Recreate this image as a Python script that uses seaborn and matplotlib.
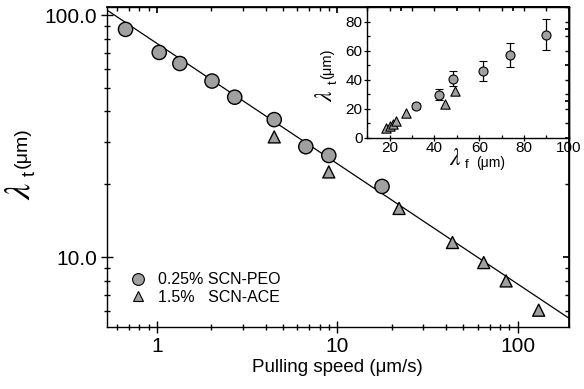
import matplotlib
matplotlib.use("Agg")
import matplotlib.pyplot as plt
import matplotlib.ticker as mticker
from matplotlib.lines import Line2D
import numpy as np
import pandas as pd
import seaborn as sns

# main panel: wavelength vs pulling speed
peo_speed = [0.67, 1.03, 1.34, 2.02, 2.70, 4.47, 6.69, 8.97, 17.7]
peo_lambda = [87.3, 70.1, 63.1, 53.4, 45.8, 37.0, 28.6, 26.3, 19.6]
ace_speed = [4.47, 8.97, 22.0, 43.5, 64.8, 86.2, 130.7]
ace_lambda = [31.4, 22.5, 15.9, 11.5, 9.5, 7.98, 6.04]

# power-law fit line: lambda = A * V^-n
fit_A = 76.4
fit_n = 0.497

# inset: lambda_t vs lambda_f
inset_peo_f = [31.8, 42.1, 48.3, 61.7, 73.8, 90.0]
inset_peo_t = [21.8, 29.6, 40.5, 46.1, 56.9, 70.9]
inset_peo_err = [2.0, 3.7, 5.3, 6.8, 8.0, 10.5]
inset_ace_f = [18.2, 20.3, 21.5, 23.0, 27.4, 44.6, 49.1]
inset_ace_t = [6.4, 7.6, 9.3, 11.6, 16.6, 23.0, 32.0]

sns.set_theme(style="ticks")
plt.rcParams["font.family"] = ["Liberation Sans", "DejaVu Sans"]
plt.rcParams["mathtext.fontset"] = "stix"
for k in ["text.color", "axes.labelcolor", "xtick.color", "ytick.color",
          "axes.edgecolor"]:
    plt.rcParams[k] = "black"

fill = "#a0a0a0"
W, H = 584, 389


def label_piece(x, y, s, size, rot=0):
    # place a piece of a composite label at figure pixel position
    fig.text(x / W, 1 - y / H, s, fontsize=size, rotation=rot,
             ha="center", va="center")


df_main = pd.concat([
    pd.DataFrame({"speed": peo_speed, "lam": peo_lambda, "alloy": "0.25% SCN-PEO"}),
    pd.DataFrame({"speed": ace_speed, "lam": ace_lambda, "alloy": "1.5%   SCN-ACE"}),
])

fig = plt.figure(figsize=(5.84, 3.89), dpi=100)
ax = fig.add_axes([0.183, 0.159, 0.791, 0.823])

ax.set_xscale("log")
ax.set_yscale("log")
ax.set_xlim(0.528, 192)
ax.set_ylim(5.14, 108)

xs = np.geomspace(0.528, 192, 50)
ax.plot(xs, fit_A * xs ** (-fit_n), color="black", lw=0.9, zorder=1)

sns.scatterplot(data=df_main, x="speed", y="lam", style="alloy",
                markers={"0.25% SCN-PEO": "o", "1.5%   SCN-ACE": "^"},
                size="alloy", sizes={"0.25% SCN-PEO": 105, "1.5%   SCN-ACE": 75},
                color=fill, edgecolor="black", linewidth=1.0, legend=False,
                ax=ax, zorder=3)

ax.xaxis.set_major_locator(mticker.LogLocator(base=10))
ax.xaxis.set_minor_locator(mticker.LogLocator(base=10, subs=np.arange(2, 10)))
ax.xaxis.set_major_formatter(mticker.FuncFormatter(lambda v, p: f"{v:g}"))
ax.xaxis.set_minor_formatter(mticker.NullFormatter())
ax.yaxis.set_major_locator(mticker.LogLocator(base=10))
ax.yaxis.set_minor_locator(mticker.LogLocator(base=10, subs=np.arange(2, 10)))
ax.yaxis.set_major_formatter(mticker.FuncFormatter(lambda v, p: f"{v:.1f}"))
ax.yaxis.set_minor_formatter(mticker.NullFormatter())
ax.tick_params(which="major", direction="inout", length=8, width=1,
               labelsize=15, pad=3)
ax.tick_params(which="minor", direction="inout", length=5, width=1)
for s in ax.spines.values():
    s.set_linewidth(1.0)

top = ax.secondary_xaxis("top")
top.xaxis.set_minor_locator(mticker.LogLocator(base=10, subs=np.arange(2, 10)))
top.tick_params(which="both", direction="in", labeltop=False, length=4)
top.tick_params(which="minor", length=3)
right = ax.secondary_yaxis("right")
right.yaxis.set_minor_locator(mticker.LogLocator(base=10, subs=np.arange(2, 10)))
right.tick_params(which="both", direction="in", labelright=False, length=4)
right.tick_params(which="minor", length=3)

ax.set_xlabel("Pulling speed (μm/s)", fontsize=13.5, labelpad=2)
ax.set_ylabel("")
# y label built from pieces: large lambda, sans subscript, smaller unit
label_piece(20, 191, r"$\lambda$", 26, 90)
label_piece(30, 174, "t", 13, 90)
label_piece(22, 148, "(μm)", 14, 90)

handles = [
    Line2D([], [], ls="none", marker="o", ms=8.5, mfc=fill, mec="black", mew=0.8),
    Line2D([], [], ls="none", marker="^", ms=6.5, mfc=fill, mec="black", mew=0.8),
]
ax.legend(handles, ["0.25% SCN-PEO", "1.5%   SCN-ACE"], loc="lower left",
          frameon=False, fontsize=11.5, handletextpad=0.6, borderaxespad=0.4,
          labelspacing=0.15, handlelength=1.2, bbox_to_anchor=(0.02, 0.03))

# inset
axi = fig.add_axes([0.629, 0.6465, 0.345, 0.3355])
axi.set_facecolor("white")
axi.errorbar(inset_peo_f, inset_peo_t, yerr=inset_peo_err, fmt="o", ms=6.5,
             mfc=fill, mec="black", mew=0.8, ecolor="black", elinewidth=0.9,
             capsize=3, capthick=0.9, zorder=3)
sns.scatterplot(x=inset_ace_f, y=inset_ace_t, marker="^", s=45, color=fill,
                edgecolor="black", linewidth=0.8, ax=axi, zorder=3)
axi.set_xlim(10, 100)
axi.set_ylim(0, 90)
axi.xaxis.set_major_locator(mticker.MultipleLocator(20))
axi.xaxis.set_minor_locator(mticker.MultipleLocator(10))
axi.yaxis.set_major_locator(mticker.MultipleLocator(20))
axi.yaxis.set_minor_locator(mticker.MultipleLocator(10))
axi.tick_params(which="major", direction="inout", length=5, width=0.9,
                labelsize=11, pad=1)
axi.tick_params(axis="x", which="major", pad=0)
axi.tick_params(which="minor", direction="in", length=2.5, width=0.9)
for s in axi.spines.values():
    s.set_linewidth(1.0)
itop = axi.secondary_xaxis("top")
itop.xaxis.set_minor_locator(mticker.MultipleLocator(10))
itop.tick_params(which="both", direction="in", labeltop=False, length=3)
iright = axi.secondary_yaxis("right")
iright.yaxis.set_minor_locator(mticker.MultipleLocator(10))
iright.tick_params(which="both", direction="in", labelright=False, length=3)
axi.set_xlabel("")
axi.set_ylabel("")
label_piece(326, 96, r"$\lambda$", 17, 90)
label_piece(334, 82, "t", 9.5, 90)
label_piece(327, 64, "(μm)", 10.5, 90)
label_piece(455, 159, r"$\lambda$", 17)
label_piece(467, 165, "f", 9.5)
label_piece(491, 163, "(μm)", 10)

fig.savefig("out.png", dpi=100)
